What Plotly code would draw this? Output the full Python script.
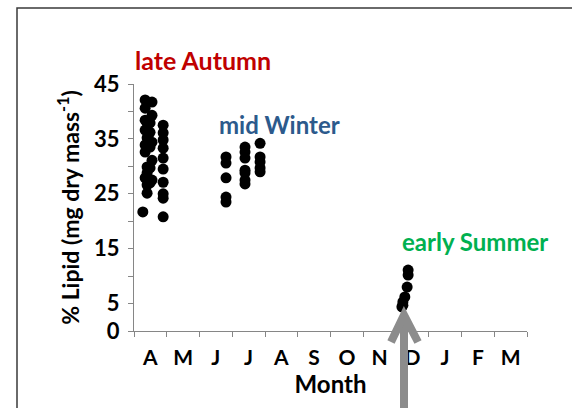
import plotly.graph_objects as go

# ---- data ----
months = ["A", "M", "J", "J", "A", "S", "O", "N", "D", "J", "F", "M"]
month_centers = [0.5, 1.5, 2.5, 3.5, 4.5, 5.5, 6.5, 7.5, 8.5, 9.5, 10.5, 11.5]
y_tick_vals = [0, 5, 15, 25, 35, 45]
y_tick_text = ["0", "5", "15", "25", "35", "45"]

autumn_x = [0.34, 0.55, 0.34, 0.55, 0.34, 0.40, 0.49, 0.34, 0.49, 0.40, 0.55, 0.34,
            0.49, 0.34, 0.55, 0.40, 0.49, 0.40, 0.34, 0.55, 0.40, 0.49, 0.40, 0.27,
            0.89, 0.89, 0.89, 0.89, 0.89, 0.89, 0.89, 0.89, 0.89, 0.89]
autumn_y = [42.1, 41.7, 40.6, 39.3, 38.4, 37.9, 37.9, 36.6, 36.2, 35.2, 34.4, 33.9,
            33.5, 32.6, 31.1, 29.9, 29.7, 28.8, 27.9, 27.5, 26.6, 27.0, 25.1, 21.7,
            37.5, 36.1, 34.8, 33.3, 31.5, 29.5, 27.1, 25.0, 24.2, 20.8]

winter_x = [2.81, 2.81, 2.81, 2.81, 2.81,
            3.39, 3.39, 3.39, 3.39, 3.39, 3.39, 3.39,
            3.85, 3.85, 3.85, 3.85, 3.85]
winter_y = [31.7, 30.6, 27.9, 24.4, 23.5,
            33.5, 32.6, 31.5, 29.3, 28.8, 27.5, 26.8,
            34.2, 31.7, 30.8, 29.7, 29.0]

summer_x = [8.37, 8.37, 8.34, 8.27, 8.21, 8.21, 8.18]
summer_y = [11.1, 10.2, 8.0, 6.2, 5.3, 4.7, 4.4]

# ---- layout geometry (pixels) ----
W, H = 572, 408
L, R, T, B = 134, 45, 84, 77
PW, PH = W - L - R, H - T - B


def px(x):
    return (x - L) / PW


def py(y):
    return (H - B - y) / PH


FONT = "Lato"
marker = dict(color="black", size=11)

fig = go.Figure()
for xs, ys, nm in [(autumn_x, autumn_y, "late Autumn"),
                   (winter_x, winter_y, "mid Winter"),
                   (summer_x, summer_y, "early Summer")]:
    fig.add_trace(go.Scatter(x=xs, y=ys, mode="markers", marker=marker,
                             name=nm, showlegend=False, cliponaxis=False))

fig.update_layout(
    width=W, height=H,
    margin=dict(l=L, r=R, t=T, b=B),
    paper_bgcolor="white", plot_bgcolor="white",
    font=dict(family=FONT, color="black"),
    xaxis=dict(range=[0, 12], showgrid=False, zeroline=False,
               showline=True, linecolor="#868686", linewidth=1,
               tickvals=month_centers, ticktext=months, ticks="",
               ticklabelstandoff=8,
               tickfont=dict(size=21, family=FONT, weight="bold"),
               minor=dict(ticks="outside", tick0=0, dtick=1, ticklen=5,
                          tickcolor="#868686", showgrid=False),
               title=dict(text="<b>Month</b>", font=dict(size=24, family=FONT), standoff=4)),
    yaxis=dict(range=[0, 45], showgrid=False, zeroline=False,
               showline=True, linecolor="#868686", linewidth=1,
               tickvals=y_tick_vals, ticktext=y_tick_text,
               ticks="outside", ticklen=5, tickcolor="#868686",
               ticklabelstandoff=4,
               tickfont=dict(size=22, family=FONT, weight="bold"),
               minor=dict(ticks="outside", tick0=0, dtick=5, ticklen=5,
                          tickcolor="#868686", showgrid=False),
               title=dict(text="<b>% Lipid (mg dry mass<sup>-1</sup>)</b>",
                          font=dict(size=23, family=FONT), standoff=8)),
)

# season labels
fig.add_annotation(x=px(133), y=py(60), xref="paper", yref="paper", xanchor="left",
                   yanchor="middle", showarrow=False, text="<b>late Autumn</b>",
                   font=dict(size=25, color="#C00000", family=FONT))
fig.add_annotation(x=px(217), y=py(124), xref="paper", yref="paper", xanchor="left",
                   yanchor="middle", showarrow=False, text="<b>mid Winter</b>",
                   font=dict(size=24, color="#2C5A8C", family=FONT))
fig.add_annotation(x=px(400), y=py(241), xref="paper", yref="paper", xanchor="left",
                   yanchor="middle", showarrow=False, text="<b>early Summer</b>",
                   font=dict(size=24, color="#00B050", family=FONT))

# frame (top and left edges of the slide box)
fig.add_shape(type="path", xref="paper", yref="paper",
              path=f"M {px(17)} {py(420)} L {px(17)} {py(8)} L {px(580)} {py(8)}",
              line=dict(color="#3a3a3a", width=1.5))

# grey arrow pointing at the summer samples
ax = 404
fig.add_shape(type="line", xref="paper", yref="paper",
              x0=px(ax), y0=py(420), x1=px(ax), y1=py(316),
              line=dict(color="#8C8C8C", width=8))
fig.add_shape(type="path", xref="paper", yref="paper",
              path=f"M {px(ax-13)} {py(342)} L {px(ax)} {py(315)} L {px(ax+14)} {py(342)}",
              line=dict(color="#8C8C8C", width=8))

fig.write_html("out.html")
